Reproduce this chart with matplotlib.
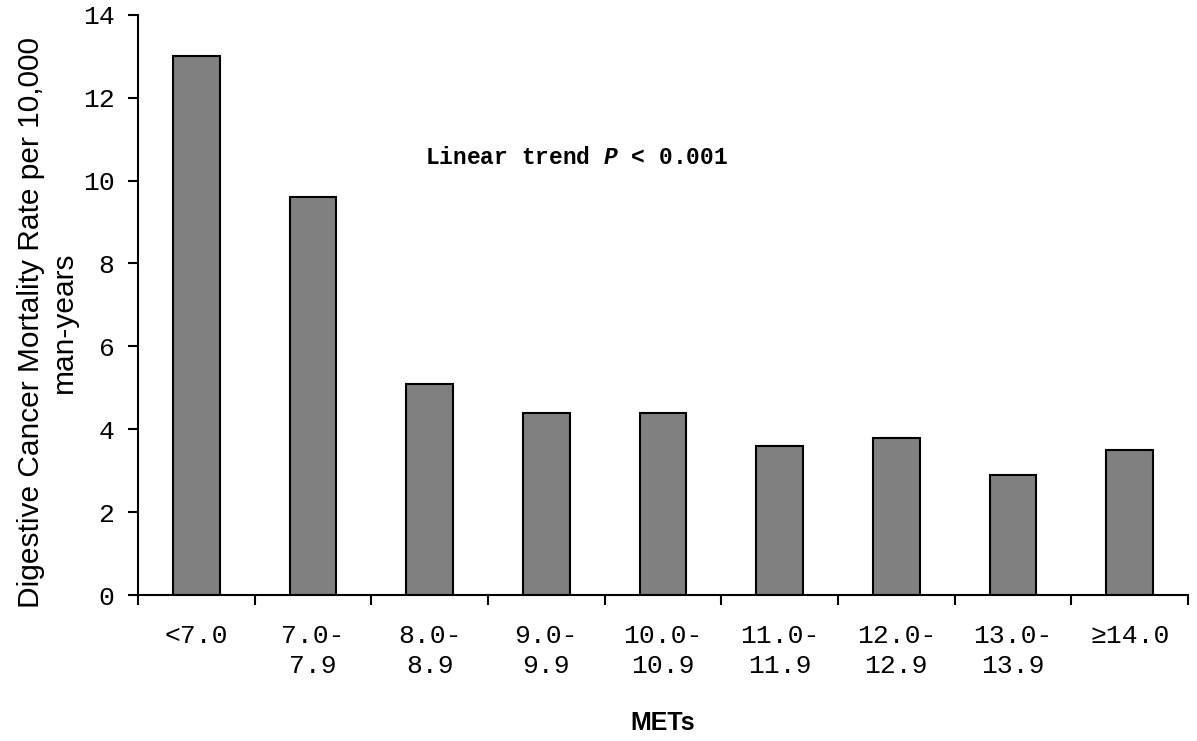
import matplotlib
matplotlib.use("Agg")
import matplotlib.pyplot as plt
import numpy as np

categories = ["<7.0", "7.0-\n7.9", "8.0-\n8.9", "9.0-\n9.9", "10.0-\n10.9",
              "11.0-\n11.9", "12.0-\n12.9", "13.0-\n13.9", "\u226514.0"]
rates = [13.0, 9.6, 5.1, 4.4, 4.4, 3.6, 3.8, 2.9, 3.5]
y_ticks = [0, 2, 4, 6, 8, 10, 12, 14]

plt.rcParams["mathtext.fontset"] = "custom"
plt.rcParams["mathtext.rm"] = "Liberation Mono:bold"
plt.rcParams["mathtext.it"] = "Liberation Mono:italic:bold"

fig = plt.figure(figsize=(11.97, 7.41), dpi=100)
ax = fig.add_axes([0.1153, 0.197, 0.8772, 0.783])

x = np.arange(len(categories))
ax.bar(x, rates, width=0.4, color="#808080", edgecolor="black", linewidth=1.5)

ax.set_xlim(-0.5, len(categories) - 0.5)
ax.set_ylim(0, 14)

# boundary ticks (major, no labels) and centred labels (minor, no tick marks)
ax.set_xticks(np.arange(len(categories) + 1) - 0.5)
ax.set_xticklabels([])
ax.set_xticks(x, minor=True)
ax.set_xticklabels(categories, minor=True, family="Liberation Mono",
                   fontsize=19, linespacing=1.29)
ax.tick_params(axis="x", which="major", length=7, width=1.5, direction="out")
ax.tick_params(axis="x", which="minor", length=0, pad=21)

ax.set_yticks(y_ticks)
ax.set_yticklabels([str(v) for v in y_ticks], family="Liberation Mono", fontsize=19)
ax.tick_params(axis="y", length=7, width=1.5, direction="out", pad=10)

for side in ["top", "right"]:
    ax.spines[side].set_visible(False)
for side in ["left", "bottom"]:
    ax.spines[side].set_linewidth(1.5)

ax.set_ylabel("Digestive Cancer Mortality Rate per 10,000\nman-years",
              family="Liberation Sans", fontsize=21.5, linespacing=1.25)
ax.yaxis.set_label_coords(-0.057, 0.47)
ax.set_xlabel("METs", family="Liberation Sans", fontweight="bold",
              fontsize=18, labelpad=24)

ax.text(3.26, 10.55, r"Linear trend $\it{P}$ < 0.001", family="Liberation Mono",
        fontweight="bold", fontsize=16.5, ha="center", va="center")

fig.savefig("out.png", dpi=100)
